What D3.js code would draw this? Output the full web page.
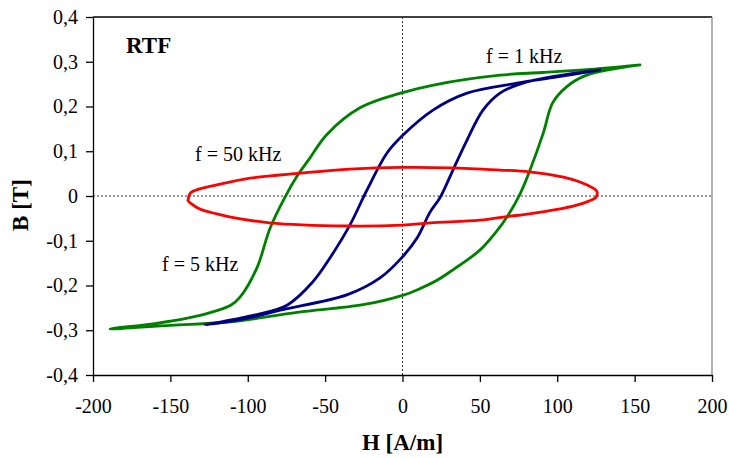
<!DOCTYPE html>
<html lang="en">
<head>
<meta charset="UTF-8">
<title>RTF B-H loops</title>
<script src="https://d3js.org/d3.v7.min.js"></script>
<style>
    body { margin: 0; background: #fff; }
    svg { display: block; }
    text { font-family: "Liberation Serif", "Times New Roman", serif; fill: #000; }
    .tick text { font-size: 20px; }
    .loop { fill: none; stroke-width: 2.8; stroke-linejoin: round; stroke-linecap: round; }
    .zero { stroke: #333; stroke-width: 1; stroke-dasharray: 2,2; }
    .lbl { font-size: 20px; }
    .title { font-size: 23px; font-weight: bold; }
</style>
</head>
<body>
<svg width="729" height="458"></svg>
<script>
// f = 5 kHz (green): right tip -> upper branch -> left tip -> lower branch
const green5kH = [153.5, 121, 90, 63, 20, 0, -27.5, -49, -60, -68, -76, -85.6, -94, -105, -111, -120, -139, -160, -189,
                  -150, -111, -68, -25.5, 0, 11.3, 22, 32.6, 50, 61, 67.5, 76, 82.4, 91, 97, 106, 119, 153.5];
const green5kB = [0.293, 0.283, 0.276, 0.270, 0.248, 0.231, 0.197, 0.137, 0.084, 0.045, -0.003, -0.072, -0.16, -0.226, -0.244, -0.256, -0.273, -0.285, -0.297,
                  -0.289, -0.281, -0.26, -0.243, -0.222, -0.207, -0.189, -0.165, -0.121, -0.078, -0.047, 0.005, 0.058, 0.141, 0.208, 0.244, 0.27, 0.293];

// f = 1 kHz (blue)
const blue1kH = [127.6, 100, 74, 41.7, 19.7, 0, -10, -23, -34, -47, -58, -74.6, -98, -127.6,
                 -100, -79, -36, -14.5, 0, 9.4, 17.8, 24.2, 32.6, 41.7, 52, 63, 80.4, 127.6];
const blue1kB = [0.282, 0.266, 0.252, 0.230, 0.192, 0.135, 0.096, 0.013, -0.065, -0.139, -0.192, -0.244, -0.268, -0.288,
                 -0.273, -0.255, -0.221, -0.183, -0.136, -0.094, -0.036, -0.004, 0.058, 0.125, 0.192, 0.230, 0.255, 0.282];

// f = 50 kHz (red)
const red50kH = [-138.6, -137, -131, -120, -98.5, -66, -34, 0, 31, 63, 82, 104, 119, 125.5, 125,
                 120, 112, 100, 82, 67.5, 50, 18, 0, -36, -86, -111, -120, -131, -137, -138.6];
const red50kB = [-0.01, 0.007, 0.016, 0.025, 0.04, 0.051, 0.060, 0.064, 0.063, 0.058, 0.054, 0.042, 0.025, 0.011, -0.003,
                 -0.012, -0.021, -0.030, -0.040, -0.046, -0.054, -0.060, -0.065, -0.067, -0.060, -0.047, -0.040, -0.029, -0.016, -0.01];

const xTicks = [-200, -150, -100, -50, 0, 50, 100, 150, 200];
const yTicks = [-0.4, -0.3, -0.2, -0.1, 0, 0.1, 0.2, 0.3, 0.4];

const series = [
    { name: "f = 5 kHz", H: green5kH, B: green5kB, color: "#008000" },
    { name: "f = 1 kHz", H: blue1kH, B: blue1kB, color: "#000080" },
    { name: "f = 50 kHz", H: red50kH, B: red50kB, color: "#ff0000" }
];

const svg = d3.select("svg");
const plotL = 93, plotR = 712, plotT = 17, plotB = 375;

const x = d3.scaleLinear().domain([-200, 200]).range([plotL, plotR]);
const y = d3.scaleLinear().domain([-0.4, 0.4]).range([plotB, plotT]);

// frame (top and right)
svg.append("line").attr("x1", plotL).attr("x2", plotR).attr("y1", plotT).attr("y2", plotT)
    .attr("stroke", "#000").attr("stroke-width", 1.3);
svg.append("line").attr("x1", plotR).attr("x2", plotR).attr("y1", plotT).attr("y2", plotB)
    .attr("stroke", "#888").attr("stroke-width", 1.3);

// zero lines
svg.append("line").attr("class", "zero")
    .attr("x1", x(0)).attr("x2", x(0)).attr("y1", plotT).attr("y2", plotB);
svg.append("line").attr("class", "zero")
    .attr("x1", plotL).attr("x2", plotR).attr("y1", y(0)).attr("y2", y(0));

const fmt = d => d === 0 ? "0" : d3.format(".1f")(d).replace(".", ",").replace("−", "-");

const gx = svg.append("g").attr("transform", `translate(0,${plotB})`)
    .call(d3.axisBottom(x).tickValues(xTicks).tickSize(7).tickSizeOuter(0).tickPadding(17)
        .tickFormat(d => String(d)));
const gy = svg.append("g").attr("transform", `translate(${plotL},0)`)
    .call(d3.axisLeft(y).tickValues(yTicks).tickSize(7).tickSizeOuter(0).tickPadding(8)
        .tickFormat(fmt));
[gx, gy].forEach(g => {
    g.attr("font-family", null).attr("font-size", null);
    g.selectAll("path, line").attr("stroke", "#000").attr("stroke-width", 1.3);
});

// loops
const line = d3.line().x(d => x(d[0])).y(d => y(d[1])).curve(d3.curveCatmullRom.alpha(0.5));
series.forEach(s => {
    const pts = s.H.map((h, i) => [h, s.B[i]]);
    svg.append("path").attr("class", "loop").attr("stroke", s.color).attr("d", line(pts));
});

// labels
svg.append("text").attr("class", "title").attr("x", 126).attr("y", 53).text("RTF");
svg.append("text").attr("class", "lbl").attr("x", 486).attr("y", 63).text("f = 1 kHz");
svg.append("text").attr("class", "lbl").attr("x", 195).attr("y", 161).text("f = 50 kHz");
svg.append("text").attr("class", "lbl").attr("x", 162).attr("y", 271).text("f = 5 kHz");

svg.append("text").attr("class", "title").attr("text-anchor", "middle")
    .attr("x", (plotL + plotR) / 2).attr("y", 450).text("H [A/m]");
svg.append("text").attr("class", "title").attr("text-anchor", "middle")
    .attr("transform", "translate(28,205) rotate(-90)").text("B [T]");
</script>
</body>
</html>
